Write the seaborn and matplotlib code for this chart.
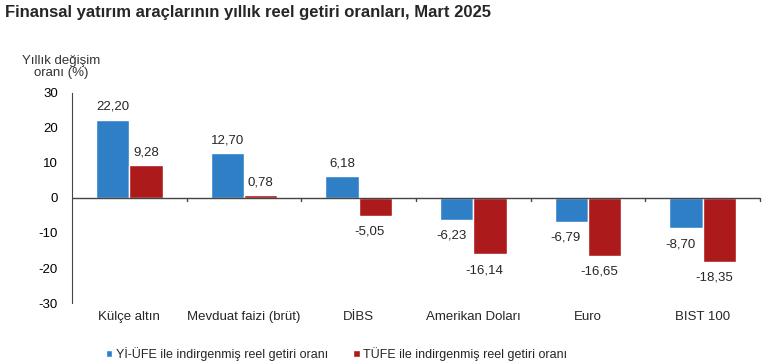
import matplotlib.pyplot as plt
import pandas as pd
import seaborn as sns

categories = ["Külçe altın", "Mevduat faizi (brüt)", "DİBS", "Amerikan Doları", "Euro", "BIST 100"]
yi_ufe = [22.20, 12.70, 6.18, -6.23, -6.79, -8.70]
tufe = [9.28, 0.78, -5.05, -16.14, -16.65, -18.35]
series_names = ["Yİ-ÜFE ile indirgenmiş reel getiri oranı", "TÜFE ile indirgenmiş reel getiri oranı"]
colors = ["#2E7FC6", "#AC1A1C"]

df = pd.DataFrame({
    "category": categories * 2,
    "value": yi_ufe + tufe,
    "series": [series_names[0]] * len(categories) + [series_names[1]] * len(categories),
})

sns.set_style("white")
plt.rcParams["font.family"] = ["Liberation Sans", "DejaVu Sans"]
plt.rcParams["axes.unicode_minus"] = False

fig = plt.figure(figsize=(7.62, 3.63), dpi=100)
ax = fig.add_axes([0.0945, 0.165, 0.903, 0.58])

sns.barplot(data=df, x="category", y="value", hue="series", palette=colors,
            width=0.58, saturation=1, ax=ax, legend=True)

# value labels
for cont in ax.containers:
    for bar in cont:
        h = bar.get_height()
        cx = bar.get_x() + bar.get_width() / 2
        txt = f"{h:.2f}".replace(".", ",")
        if h >= 0:
            ax.annotate(txt, (cx, h), xytext=(0, 5), textcoords="offset points",
                        ha="center", va="bottom", fontsize=9.5)
        else:
            ax.annotate(txt, (cx, h), xytext=(-4, -7), textcoords="offset points",
                        ha="center", va="top", fontsize=9.5)

ax.set_ylim(-30, 30)
ax.set_yticks(range(-30, 31, 10))
ax.set_xlim(-0.5, len(categories) - 0.5)
ax.set_xlabel("")
ax.set_ylabel("")
ax.tick_params(axis="y", length=4, direction="out", labelsize=9.5, colors="#222222", pad=6)
ax.tick_params(axis="x", length=0, labelsize=9.5, pad=6)
for lbl in ax.get_yticklabels():
    lbl.set_color("black")

for side in ["top", "right", "bottom"]:
    ax.spines[side].set_visible(False)
ax.spines["left"].set_color("#444444")
ax.axhline(0, color="#444444", lw=1)
for b in range(1, len(categories) + 1):
    ax.plot([b - 0.5, b - 0.5], [0, -1.0], color="#444444", lw=1, clip_on=False)

ax.legend(loc="upper center", bbox_to_anchor=(0.385, -0.155), ncol=2, frameon=False,
          fontsize=9, handlelength=0.5, handleheight=0.5, handletextpad=0.3,
          columnspacing=2.0)

fig.text(0.007, 0.965, "Finansal yatırım araçlarının yıllık reel getiri oranları, Mart 2025",
         fontsize=12, fontweight="bold", ha="left", va="center")
fig.text(0.08, 0.815, "Yıllık değişim\noranı (%)", fontsize=9.5, ha="center", va="center",
         color="#333333", linespacing=1.05)

fig.savefig("out.png", dpi=100)
